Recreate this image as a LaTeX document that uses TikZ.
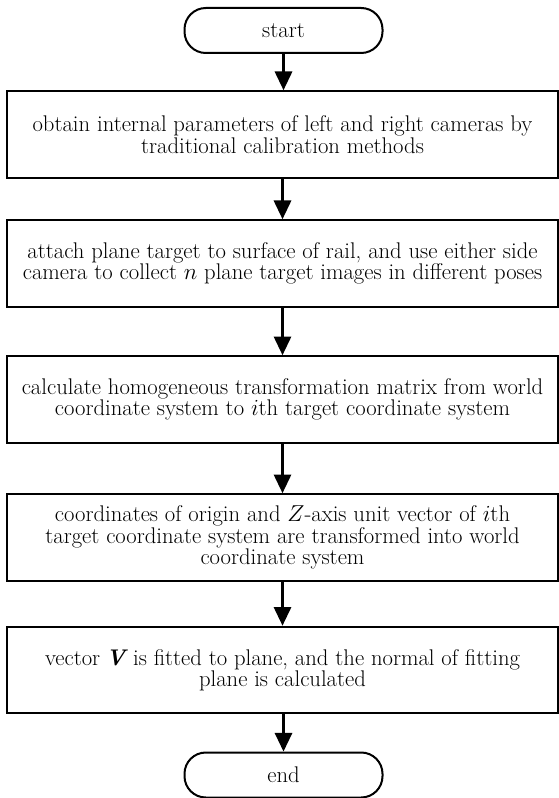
\documentclass[tikz,border=0pt]{standalone}
\usepackage{fontspec}
\usetikzlibrary{arrows.meta}
\begin{document}
\begin{tikzpicture}[x=0.75pt,y=-0.75pt,
  txt/.style={font=\fontsize{17}{16}\selectfont},
  term/.style={txt,draw,line width=1.5pt,rounded corners=16pt,minimum width=148.5pt,minimum height=33.75pt,inner sep=0pt},
  proc/.style={txt,draw,line width=1.5pt,minimum width=413pt,minimum height=65pt,align=center,inner sep=0pt},
  flow/.style={line width=1.6pt,-{Triangle[length=14pt,width=13pt]}}]
\useasboundingbox (0,0) rectangle (558,798);
\node[term] (start) at (283.5,30.5) {start};
\node[proc] (p1) at (282.5,134.5) {obtain internal parameters of left and right cameras by\\traditional calibration methods};
\node[proc] (p2) at (282.5,263.5) {attach plane target to surface of rail, and use either side\\camera to collect $n$ plane target images in different poses};
\node[proc] (p3) at (282.5,399.5) {calculate homogeneous transformation matrix from world\\coordinate system to $i$th target coordinate system};
\node[proc] (p4) at (282.5,537.5) {coordinates of origin and $Z$-axis unit vector of $i$th\\target coordinate system are transformed into world\\coordinate system};
\node[proc] (p5) at (282.5,670) {vector\hspace{0.25em}\textbf{\textit{V}}\hspace{0.22em}is fitted to plane, and the normal of fitting\\plane is calculated};
\node[term] (end) at (283.5,775) {end};
\draw[flow] (start) -- (start |- p1.north);
\draw[flow] (p1) -- (p2);
\draw[flow] (p2) -- (p3);
\draw[flow] (p3) -- (p4);
\draw[flow] (p4) -- (p5);
\draw[flow] (p5.south -| end) -- (end);
\end{tikzpicture}
\end{document}
